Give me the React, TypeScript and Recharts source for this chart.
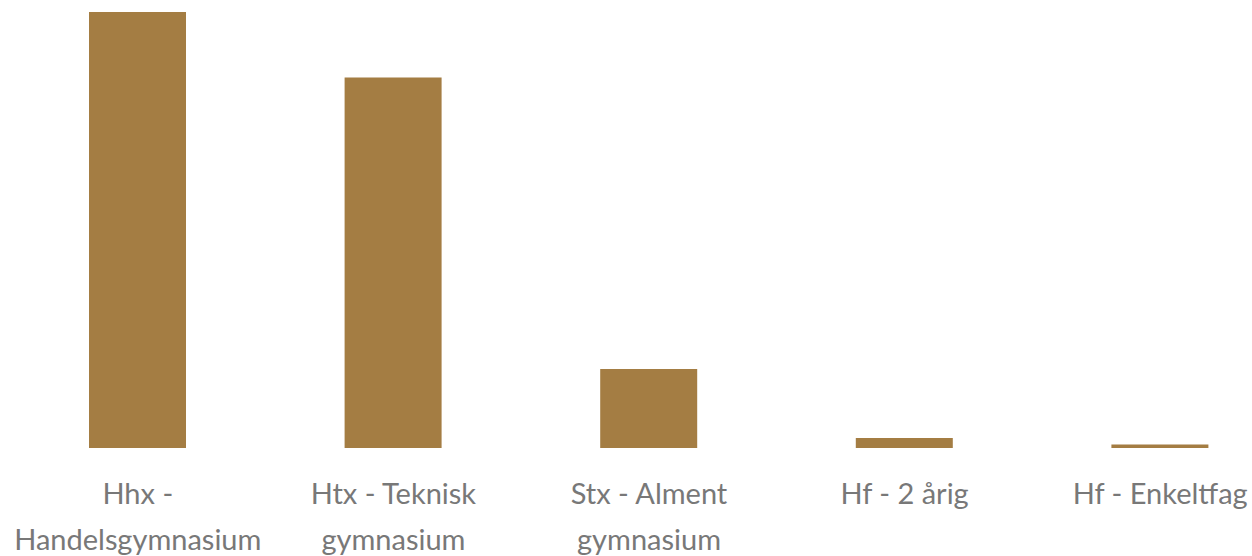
import React from 'react'
import { BarChart, Bar, XAxis, YAxis } from 'recharts'

const categories = ['Hhx - Handelsgymnasium', 'Htx - Teknisk gymnasium', 'Stx - Alment gymnasium', 'Hf - 2 årig', 'Hf - Enkeltfag']
const tickLines = [
  ['Hhx -', 'Handelsgymnasium'],
  ['Htx - Teknisk', 'gymnasium'],
  ['Stx - Alment', 'gymnasium'],
  ['Hf - 2 årig'],
  ['Hf - Enkeltfag']
]
const shares = [48.5, 41.2, 8.8, 1.1, 0.4]

const data = categories.map((name, i) => ({ name, value: shares[i] }))

const BAR_COLOR = '#a47d43'
const TEXT_COLOR = '#787878'

// two-line tick, breaks are fixed like in the original
const CategoryTick = (props: any) => {
  const { x, y, index } = props
  const lines = tickLines[index] || []
  return (
    <g transform={`translate(${x},${y})`}>
      <text
        textAnchor="middle"
        fill={TEXT_COLOR}
        fontFamily="Lato, 'Open Sans', sans-serif"
        fontSize={29}
      >
        {lines.map((line, i) => (
          <tspan key={i} x={0} dy={i === 0 ? 48 : 46}>
            {line}
          </tspan>
        ))}
      </text>
    </g>
  )
}

export default function App() {
  return (
    <div
      style={{
        position: 'absolute',
        left: 0,
        top: 0,
        width: 1252,
        height: 556,
        overflow: 'hidden',
        background: '#ffffff'
      }}
    >
      <BarChart
        width={1300}
        height={556}
        data={data}
        margin={{ top: 12, right: 12, bottom: 78, left: 10 }}
      >
        <XAxis
          dataKey="name"
          axisLine={false}
          tickLine={false}
          interval={0}
          tick={<CategoryTick />}
        />
        <YAxis hide domain={[0, 48.5]} />
        <Bar dataKey="value" fill={BAR_COLOR} barSize={97} isAnimationActive={false} />
      </BarChart>
    </div>
  )
}
